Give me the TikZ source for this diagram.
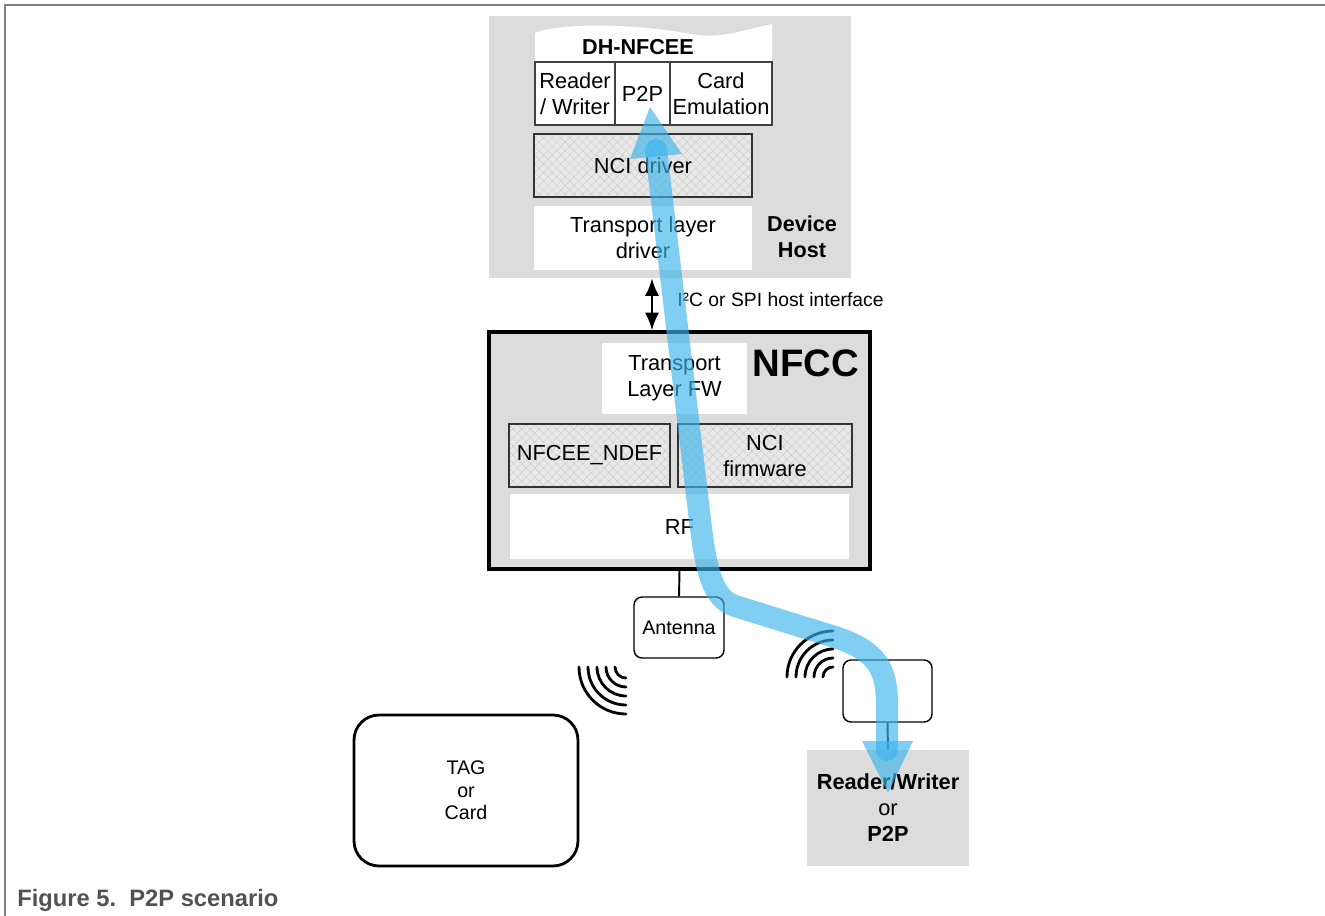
\documentclass[tikz,border=0pt]{standalone}
\usepackage{fontspec}
\setmainfont{Liberation Sans}
\usetikzlibrary{positioning}
\usetikzlibrary{arrows.meta}
\usetikzlibrary{patterns.meta}

\definecolor{hostgray}{RGB}{220,220,220}
\definecolor{flowblue}{RGB}{60,180,235}
\definecolor{framegray}{RGB}{128,128,128}

\begin{document}
\begin{tikzpicture}[x=0.02cm,y=-0.02cm,>=latex,
  txt/.style={font=\fontsize{12.4}{14.8}\selectfont, align=center, inner sep=0pt},
  small/.style={font=\fontsize{11.2}{12.8}\selectfont, align=center, inner sep=0pt},
  cell/.style={txt, draw=black!75, line width=0.6pt, fill=white},
  hatched/.style={txt, draw=black!80, line width=0.8pt, preaction={fill=gray!18},
    pattern={Hatch[angle=45,distance=3.5pt,line width=0.25pt]}, pattern color=gray!40},
  blank/.style={txt, fill=white},
  antbox/.style={small, draw, line width=0.8pt, rounded corners=0.16cm, fill=white},
  wave/.style={line width=1.6pt, line cap=round},
  flow/.style={draw=flowblue, line width=0.44cm, line cap=round, line join=round, draw opacity=0.65},
  flowhead/.style={fill=flowblue, fill opacity=0.65}]

\useasboundingbox (0,0) rectangle (1325,916);

% frame
\draw [framegray, line width=0.8pt] (5,916) -- (5,5) -- (1325,5);

% device host
\node [fill=hostgray, minimum width=7.24cm, minimum height=5.24cm] (host) at (670,147) {};
\fill [white] (535,33) .. controls (560,22) and (640,24) .. (690,34)
  .. controls (722,40) and (750,28) .. (772,24) -- (772,62) -- (535,62) -- cycle;
\node [txt, font=\fontsize{12.3}{14.8}\bfseries] (dhnfcee) at (638,47) {DH-NFCEE};
\node [cell, minimum width=1.6cm, minimum height=1.26cm] (rw) at (575,93.5) {Reader\\/ Writer};
\node [cell, minimum width=1.1cm, minimum height=1.26cm] (p2p) at (642.5,93.5) {P2P};
\node [cell, minimum width=2.04cm, minimum height=1.26cm] (ce) at (721,93.5) {Card\\Emulation};
\node [hatched, line width=1.2pt, minimum width=4.36cm, minimum height=1.26cm] (ncidrv) at (643,165.5) {NCI driver};
\node [blank, minimum width=4.36cm, minimum height=1.28cm] (tldrv) at (643,238) {Transport layer\\driver};
\node [txt, font=\fontsize{12.3}{14.8}\bfseries] (dh) at (802,237) {Device\\Host};

% NFCC
\node [draw, line width=2pt, fill=hostgray, minimum width=7.62cm, minimum height=4.74cm] (nfcc) at (679.5,450.5) {};
\node [font=\fontsize{21.8}{24}\bfseries, inner sep=0pt] (nfcctitle) at (806,363) {NFCC};
\node [blank, minimum width=2.9cm, minimum height=1.42cm] (tlfw) at (674.5,378.5) {Transport\\Layer FW};
\node [hatched, minimum width=3.22cm, minimum height=1.26cm] (ndef) at (589.5,455.5) {NFCEE\_NDEF};
\node [hatched, minimum width=3.48cm, minimum height=1.26cm] (ncifw) at (765,455.5) {NCI\\firmware};
\node [blank, minimum width=6.78cm, minimum height=1.3cm] (rf) at (679.5,526.5) {RF};

% host interface
\coordinate (ifc) at (652,0);
\draw [{Latex[length=10pt,width=8pt]}-{Latex[length=10pt,width=8pt]}, line width=1.1pt]
  (host.south -| ifc) -- (nfcc.north -| ifc);
\node [font=\fontsize{11}{12}\selectfont, anchor=west, inner sep=0pt] (i2c) at (677,300) {I²C or SPI host interface};

% antennas
\node [antbox, minimum width=1.8cm, minimum height=1.22cm] (ant) at (679,627.5) {Antenna};
\draw [line width=1.1pt] (nfcc.south) -- (ant.north);
\node [antbox, minimum width=1.78cm, minimum height=1.24cm] (peerant) at (887.5,691) {};
\node [txt, fill=hostgray, minimum width=3.24cm, minimum height=2.32cm] (peer) at (888,808)
  {\textbf{Reader/Writer}\\or\\\textbf{P2P}};
\draw [line width=1.1pt] (peerant.south) -- (peer.north);
\node [small, draw, line width=1.6pt, rounded corners=0.5cm, minimum width=4.48cm, minimum height=3.02cm] (tag) at (466,790.5)
  {TAG\\or\\Card};

% radio waves
\foreach \r in {11,20,29,38,47}
  \draw [wave] (626-\r,667) arc [start angle=180, end angle=270, radius=\r*0.02cm];
\foreach \r in {10,19,28,37,46}
  \draw [wave] (833-\r,677) arc [start angle=180, end angle=90, radius=\r*0.02cm];

% data flow
\coordinate (f1) at (656,150);
\coordinate (f2) at (700,520);
\coordinate (f3) at (735,606);
\coordinate (f4) at (835,637);
\coordinate (f5) at (887,705);
\coordinate (f6) at (887,750);
\draw [flow] (f1) -- (f2) .. controls (706,570) and (712,598) .. (f3) -- (f4)
  .. controls (878,651) and (887,670) .. (f5) -- (f6);
\fill [flowhead] (650,107) -- (682,154) -- (630,159) -- cycle;
\fill [flowhead] (888,793) -- (913,741) -- (862,741) -- cycle;

% caption
\node [anchor=west, inner sep=0pt, text=black!68, font=\fontsize{13.5}{15}\bfseries] (caption) at (17,900) {Figure 5.\ \ P2P scenario};

\end{tikzpicture}
\end{document}
